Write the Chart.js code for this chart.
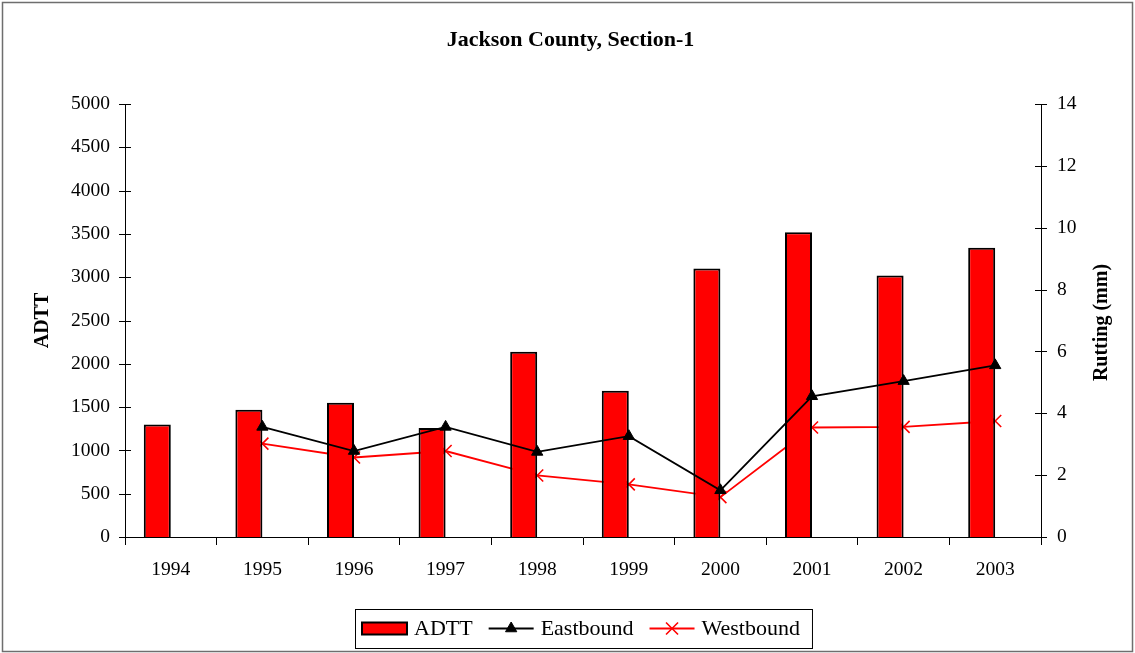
<!DOCTYPE html>
<html>
<head>
<meta charset="utf-8">
<script src="https://cdn.jsdelivr.net/npm/chart.js@4"></script>
<style>
  html, body { margin: 0; padding: 0; background: #fff; }
  canvas { display: block; }
</style>
</head>
<body>
<canvas id="grafico" width="1135" height="653"></canvas>
<script>
var years = ['1994','1995','1996','1997','1998','1999','2000','2001','2002','2003'];
var adtt = [1300, 1470, 1550, 1260, 2140, 1690, 3100, 3520, 3020, 3340];
var eastbound = [null, 3.56, 2.78, 3.56, 2.75, 3.26, 1.51, 4.55, 5.04, 5.55];
var westbound = [null, 3.02, 2.57, 2.78, 1.99, 1.70, 1.29, 3.54, 3.56, 3.75];
var adttTicks = [0, 500, 1000, 1500, 2000, 2500, 3000, 3500, 4000, 4500, 5000];
var ruttingTicks = [0, 2, 4, 6, 8, 10, 12, 14];

var serif = "'Liberation Serif', 'Times New Roman', serif";
var tickFont = { family: serif, size: 19.5 };

// title, axis titles, crossing y ticks, legend box and outer frame
var decorations = {
  id: 'decorations',
  afterDraw: function (chart) {
    var ctx = chart.ctx;
    var area = chart.chartArea;
    var cy = (area.top + area.bottom) / 2;
    ctx.save();

    // outer frame
    ctx.strokeStyle = '#6e6e6e';
    ctx.lineWidth = 1.5;
    ctx.strokeRect(2.5, 2.5, chart.width - 5, chart.height - 4);

    // y tick marks crossing the axis lines
    ctx.strokeStyle = '#000';
    ctx.lineWidth = 1;
    [['y', area.left], ['y1', area.right]].forEach(function (pair) {
      var scale = chart.scales[pair[0]];
      scale.ticks.forEach(function (t) {
        var py = Math.round(scale.getPixelForValue(t.value)) + 0.5;
        ctx.beginPath();
        ctx.moveTo(pair[1] - 6, py);
        ctx.lineTo(pair[1] + 6, py);
        ctx.stroke();
      });
    });

    ctx.fillStyle = '#000';
    ctx.textAlign = 'center';
    ctx.textBaseline = 'middle';

    // chart title
    ctx.font = 'bold 22px ' + serif;
    ctx.fillText('Jackson County, Section-1', chart.width / 2 + 3, 40);

    // axis titles, both reading bottom to top
    ctx.font = 'bold 20px ' + serif;
    ctx.save();
    ctx.translate(43, cy);
    ctx.rotate(-Math.PI / 2);
    ctx.fillText('ADTT', 0, 0);
    ctx.restore();
    ctx.save();
    ctx.translate(1102, cy + 2);
    ctx.rotate(-Math.PI / 2);
    ctx.fillText('Rutting (mm)', 0, 0);
    ctx.restore();

    // legend
    ctx.font = '22px ' + serif;
    ctx.textAlign = 'left';
    var names = ['ADTT', 'Eastbound', 'Westbound'];
    var sample = 45, gapIn = 7, gapOut = 16, padL = 7, padR = 12;
    var total = padL + padR;
    names.forEach(function (n, i) {
      total += sample + gapIn + ctx.measureText(n).width + (i < names.length - 1 ? gapOut : 0);
    });
    var boxTop = 609, boxH = 39;
    var x = Math.round((area.left + area.right) / 2 - total / 2);
    var ly = boxTop + boxH / 2;
    ctx.strokeStyle = '#000';
    ctx.lineWidth = 1;
    ctx.strokeRect(x + 0.5, boxTop + 0.5, total, boxH);
    x += padL;
    names.forEach(function (n, i) {
      var ds = chart.data.datasets.filter(function (d) { return d.label === n; })[0];
      if (i === 0) {
        ctx.fillStyle = ds.backgroundColor;
        ctx.fillRect(x, ly - 6, sample, 12);
        ctx.strokeStyle = '#000';
        ctx.lineWidth = 2;
        ctx.strokeRect(x, ly - 6, sample, 12);
      } else {
        ctx.strokeStyle = ds.borderColor;
        ctx.lineWidth = ds.borderWidth;
        ctx.beginPath();
        ctx.moveTo(x, ly);
        ctx.lineTo(x + sample, ly);
        ctx.stroke();
        ctx.fillStyle = ds.pointBackgroundColor;
        ctx.strokeStyle = ds.pointBorderColor;
        ctx.lineWidth = ds.pointBorderWidth;
        Chart.helpers.drawPoint(ctx, {
          pointStyle: ds.pointStyle,
          radius: ds.pointRadius,
          borderWidth: ds.pointBorderWidth,
          rotation: 0
        }, x + sample / 2, ly);
      }
      x += sample + gapIn;
      ctx.fillStyle = '#000';
      ctx.fillText(n, x, ly + 1);
      x += ctx.measureText(n).width + gapOut;
    });

    ctx.restore();
  }
};

var data = {
  labels: years,
  datasets: [
    {
      type: 'line',
      label: 'Westbound',
      data: westbound,
      yAxisID: 'y1',
      borderColor: '#ff0000',
      borderWidth: 1.8,
      pointStyle: 'crossRot',
      pointRadius: 8.5,
      pointBorderWidth: 1.6,
      pointBorderColor: '#ff0000',
      pointBackgroundColor: '#ff0000',
      order: 3
    },
    {
      type: 'bar',
      label: 'ADTT',
      data: adtt,
      yAxisID: 'y',
      backgroundColor: '#ff0000',
      borderColor: '#000',
      borderWidth: 2,
      borderSkipped: 'bottom',
      categoryPercentage: 0.59,
      barPercentage: 1.0,
      order: 2
    },
    {
      // empty second slot keeps the ADTT bar left of each year's centre
      type: 'bar',
      label: 'spacer',
      data: years.map(function () { return null; }),
      yAxisID: 'y',
      categoryPercentage: 0.59,
      barPercentage: 1.0,
      order: 2
    },
    {
      type: 'line',
      label: 'Eastbound',
      data: eastbound,
      yAxisID: 'y1',
      borderColor: '#000',
      borderWidth: 1.8,
      pointStyle: 'triangle',
      pointRadius: 6.5,
      pointBorderWidth: 1,
      pointBorderColor: '#000',
      pointBackgroundColor: '#000',
      order: 1
    }
  ]
};

function plain(v) { return String(v); }

var options = {
  responsive: false,
  animation: false,
  devicePixelRatio: 1,
  layout: { padding: { left: 5, right: 4, top: 104, bottom: 66 } },
  plugins: {
    legend: { display: false },
    title: { display: false },
    tooltip: { enabled: false }
  },
  scales: {
    x: {
      offset: true,
      grid: { display: true, drawOnChartArea: false, drawTicks: true, tickLength: 8, color: '#000', offset: true },
      border: { display: true, color: '#000', width: 1 },
      ticks: { color: '#000', font: tickFont, padding: 13, maxRotation: 0 },
      afterFit: function (s) { s.height = 50; }
    },
    y: {
      position: 'left',
      min: 0,
      max: 5000,
      grid: { display: false },
      border: { display: true, color: '#000', width: 1 },
      ticks: { color: '#000', font: tickFont, padding: 7, callback: plain },
      afterBuildTicks: function (s) { s.ticks = adttTicks.map(function (v) { return { value: v }; }); },
      afterFit: function (s) { s.width = 120; }
    },
    y1: {
      position: 'right',
      min: 0,
      max: 14,
      grid: { display: false },
      border: { display: true, color: '#000', width: 1 },
      ticks: { color: '#000', font: tickFont, padding: 8, callback: plain },
      afterBuildTicks: function (s) { s.ticks = ruttingTicks.map(function (v) { return { value: v }; }); },
      afterFit: function (s) { s.width = 90; }
    }
  }
};

var ctx = document.getElementById('grafico').getContext('2d');
var chart = new Chart(ctx, {
  type: 'bar',
  data: data,
  options: options,
  plugins: [decorations]
});
</script>
</body>
</html>
